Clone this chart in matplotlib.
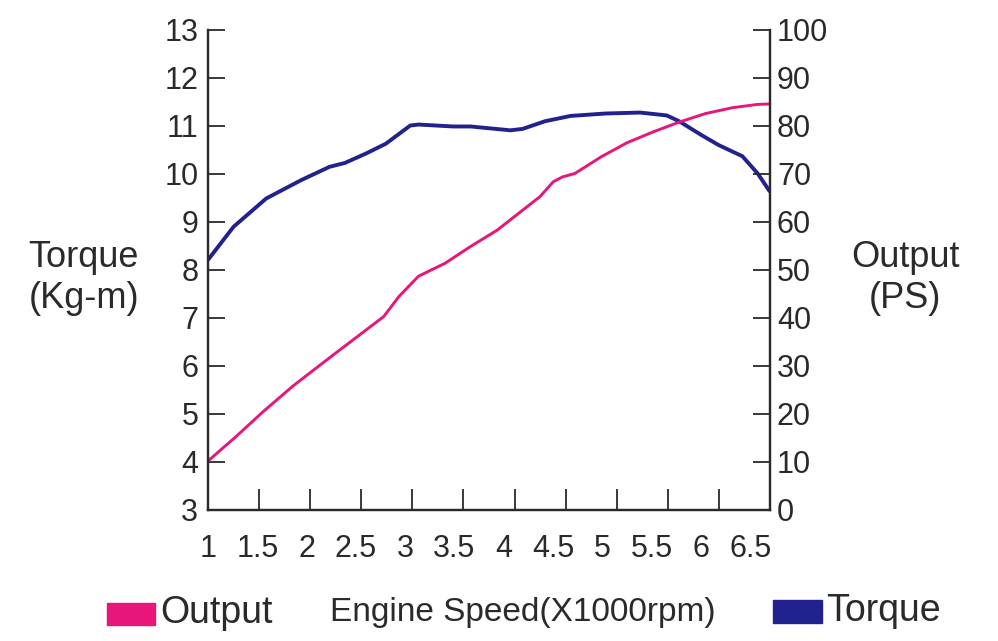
import matplotlib
matplotlib.use("Agg")
import matplotlib.pyplot as plt
from matplotlib.patches import Rectangle
from matplotlib.transforms import ScaledTranslation

# engine speed (x1000 rpm)
speed_torque = [1.0, 1.25, 1.57, 1.91, 2.19, 2.34, 2.55, 2.74, 2.98, 3.06, 3.4, 3.57,
                3.96, 4.08, 4.3, 4.55, 4.89, 5.23, 5.49, 5.61, 5.83, 6.0, 6.23, 6.38, 6.5]
torque = [8.21, 8.9, 9.49, 9.87, 10.15, 10.23, 10.43, 10.63, 11.01, 11.03, 10.99, 10.99,
          10.91, 10.94, 11.1, 11.21, 11.26, 11.28, 11.22, 11.1, 10.81, 10.6, 10.37, 10.01, 9.63]

speed_output = [1.0, 1.28, 1.53, 1.83, 2.0, 2.25, 2.51, 2.72, 2.87, 3.06, 3.32, 3.57, 3.83,
                4.04, 4.25, 4.38, 4.47, 4.59, 4.85, 5.1, 5.36, 5.61, 5.87, 6.13, 6.38, 6.5]
output = [10.2, 15.4, 20.3, 25.8, 28.6, 32.7, 36.9, 40.3, 44.5, 48.7, 51.4, 54.9, 58.3,
          61.8, 65.3, 68.4, 69.4, 70.1, 73.6, 76.5, 78.8, 80.8, 82.6, 83.8, 84.5, 84.6]

xticks = [1, 1.5, 2, 2.5, 3, 3.5, 4, 4.5, 5, 5.5, 6, 6.5]
xticklabels = ["1", "1.5", "2", "2.5", "3", "3.5", "4", "4.5", "5", "5.5", "6", "6.5"]
torque_ticks = list(range(3, 14))
output_ticks = list(range(0, 101, 10))

pink = "#E8157A"
navy = "#22228F"
ink = "#2a2a2a"
font = ["Liberation Sans", "DejaVu Sans"]

fig = plt.figure(figsize=(9.98, 6.41), dpi=100)
ax = fig.add_axes([0.2084, 0.2044, 0.5631, 0.7488])
ax2 = ax.twinx()

ax.plot(speed_torque, torque, color=navy, lw=2.8, solid_capstyle="butt")
ax2.plot(speed_output, output, color=pink, lw=2.1, solid_capstyle="butt")

ax.set_xlim(1, 6.5)
ax.set_ylim(3, 13)
ax2.set_ylim(0, 100)

for a in (ax, ax2):
    a.spines["top"].set_visible(False)
    for s in a.spines.values():
        s.set_linewidth(1.6)
        s.set_color(ink)
    a.set_facecolor("none")

ax.set_xticks(xticks)
ax.set_xticklabels(xticklabels, family=font, fontsize=22)
ax.set_yticks(torque_ticks)
ax.set_yticklabels([str(t) for t in torque_ticks], family=font, fontsize=22)
ax2.set_yticks(output_ticks)
ax2.set_yticklabels([str(t) for t in output_ticks], family=font, fontsize=22)

ax.tick_params(axis="x", direction="in", length=15, width=1.3, pad=17, colors=ink)
ax.tick_params(axis="y", direction="in", length=12, width=1.3, pad=7, colors=ink)
ax2.tick_params(axis="y", direction="in", length=12, width=1.3, pad=5, colors=ink)

# the x labels in the original drift a little left of their ticks
for lab, t in zip(ax.get_xticklabels(), xticks):
    lab.set_transform(lab.get_transform() +
                      ScaledTranslation(-(t - 1) * 0.036, 0, fig.dpi_scale_trans))

fig.text(0.084, 0.566, "Torque\n(Kg-m)", ha="center", va="center", fontsize=26,
         family=font, color=ink, linespacing=1.2)
fig.text(0.907, 0.566, "Output\n(PS)", ha="center", va="center", fontsize=26,
         family=font, color=ink, linespacing=1.2)

# legend row under the chart
fig.patches.append(Rectangle((107 / 998, 1 - 625 / 641), 48 / 998, 22 / 641,
                             transform=fig.transFigure, color=pink))
fig.patches.append(Rectangle((773 / 998, 1 - 623 / 641), 49 / 998, 23 / 641,
                             transform=fig.transFigure, color=navy))
fig.text(160 / 998, 1 - 613 / 641, "Output", fontsize=27, family=font, color=ink, va="center")
fig.text(523 / 998, 1 - 613 / 641, "Engine Speed(X1000rpm)", fontsize=24, family=font,
         color=ink, ha="center", va="center")
fig.text(826 / 998, 1 - 611 / 641, "Torque", fontsize=27, family=font, color=ink, va="center")

fig.savefig("out.png", dpi=100)
